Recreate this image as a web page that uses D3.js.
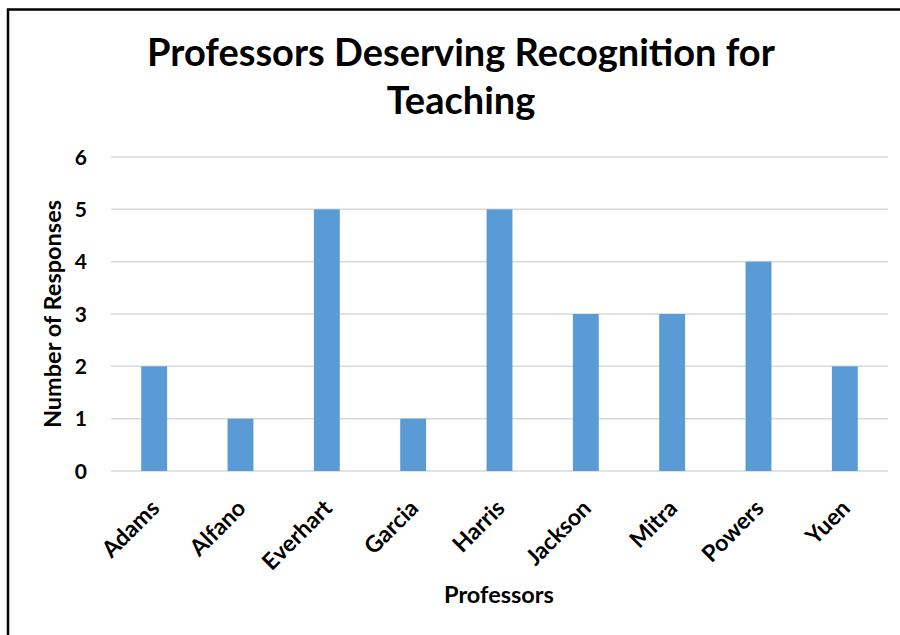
<!DOCTYPE html>
<html><head><meta charset="utf-8">
<script src="https://cdn.jsdelivr.net/npm/d3@7"></script>
<style>body{margin:0;background:#fff}svg{display:block}text{font-family:Lato,"Open Sans",sans-serif;font-weight:bold;fill:#000}</style>
</head><body>
<svg id="c" width="900" height="635"></svg>
<script>
const categories = ["Adams","Alfano","Everhart","Garcia","Harris","Jackson","Mitra","Powers","Yuen"];
const values = [2,1,5,1,5,3,3,4,2];
const yTicks = [0,1,2,3,4,5,6];
const titleLines = ["Professors Deserving Recognition for","Teaching"];
const xTitle = "Professors";
const yTitle = "Number of Responses";

(function(){
const svg = d3.select("#c");
svg.append("rect").attr("x",8).attr("y",9.5).attr("width",900).attr("height",640)
  .attr("fill","#fff").attr("stroke","#000").attr("stroke-width",2.5);

const pL=111,pR=888,pT=157,pB=471;
const x = d3.scaleBand().domain(categories).range([pL,pR]).padding(0);
const y = d3.scaleLinear().domain([0,6]).range([pB,pT]);

svg.append("g").selectAll("line").data(yTicks).join("line")
  .attr("x1",pL).attr("x2",pR).attr("y1",d=>y(d)).attr("y2",d=>y(d))
  .attr("stroke","#d9d9d9").attr("stroke-width",1.5);

svg.append("g").selectAll("text").data(yTicks).join("text")
  .attr("x",87).attr("y",d=>y(d)).attr("dy","0.36em").attr("text-anchor","end")
  .attr("font-size",21).text(d=>d);

const bw = x.bandwidth()*0.3;
svg.append("g").selectAll("rect").data(values).join("rect")
  .attr("x",(d,i)=>x(categories[i])+x.bandwidth()/2-bw/2)
  .attr("width",bw)
  .attr("y",d=>y(d)).attr("height",d=>y(0)-y(d))
  .attr("fill","#5b9bd5");

svg.append("g").selectAll("text").data(categories).join("text")
  .attr("transform",d=>`translate(${x(d)+x.bandwidth()/2+1},${pB+33}) rotate(-45)`)
  .attr("text-anchor","end").attr("dy","0.35em").attr("font-size",23).text(d=>d);

svg.append("g").selectAll("text").data(titleLines).join("text")
  .attr("x",461).attr("y",(d,i)=>66+i*48).attr("text-anchor","middle")
  .attr("font-size",38).text(d=>d);

svg.append("text").attr("x",499).attr("y",603).attr("text-anchor","middle")
  .attr("font-size",23.5).text(xTitle);
svg.append("text").attr("transform",`translate(61,314) rotate(-90)`).attr("text-anchor","middle")
  .attr("font-size",23.5).text(yTitle);
})();
</script>
</body></html>
